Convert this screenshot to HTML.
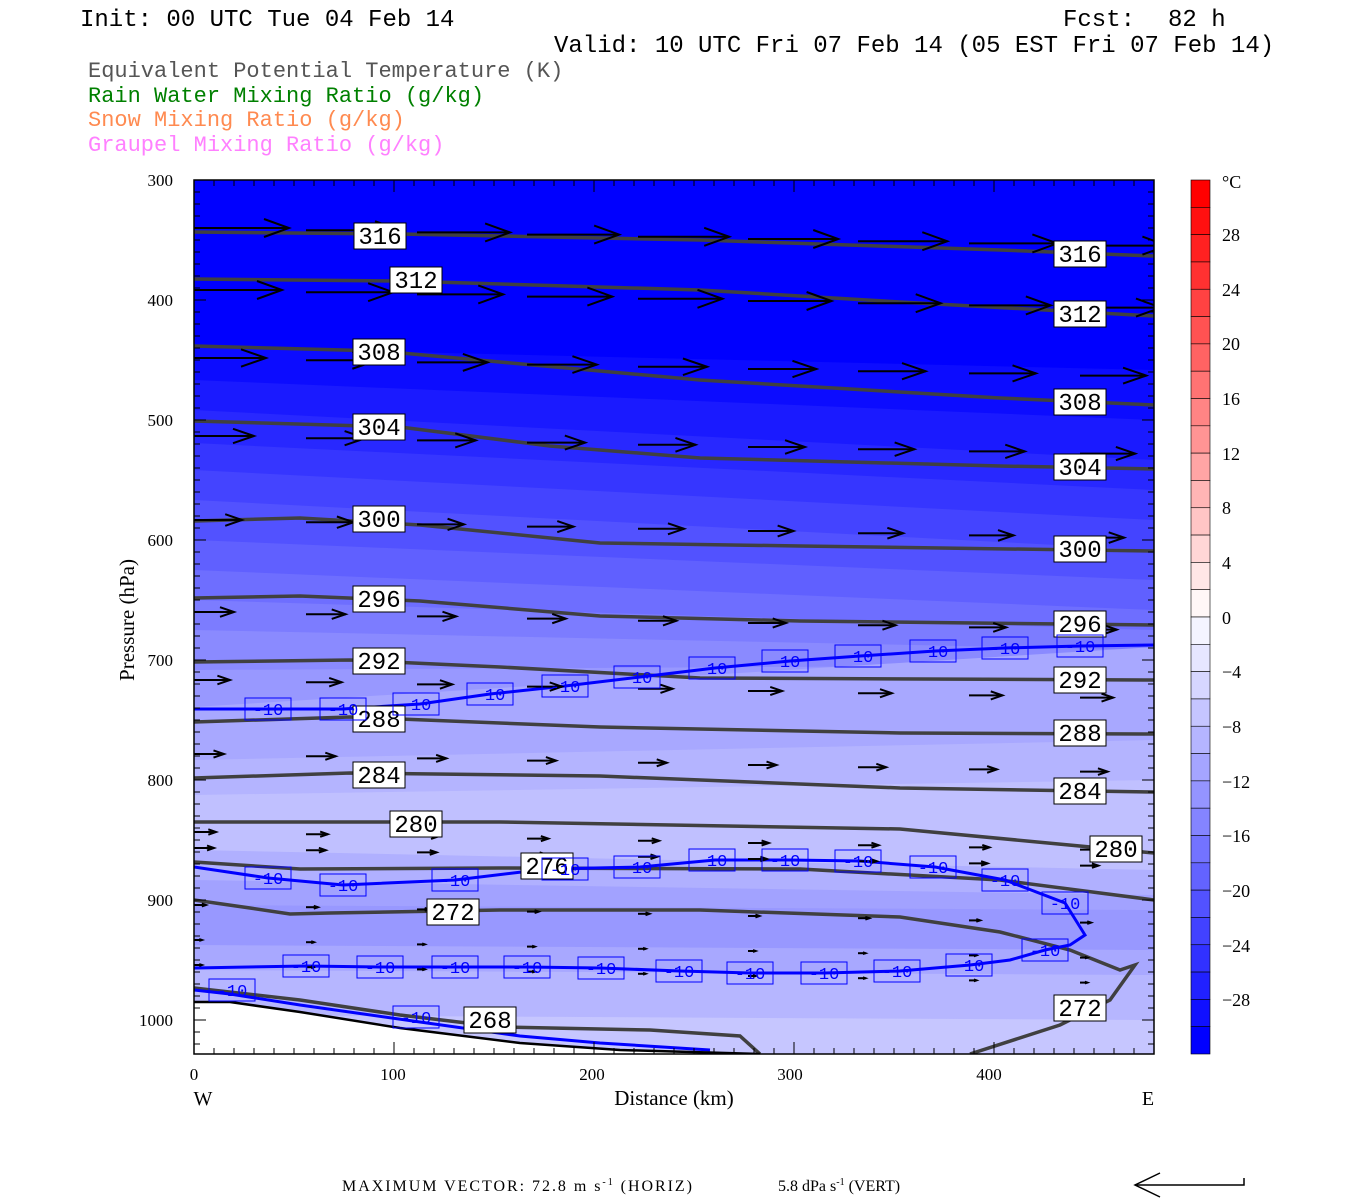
<!DOCTYPE html>
<html><head><meta charset="utf-8">
<style>
html,body{margin:0;padding:0;background:#fff;}
svg{display:block;}
text{font-family:"Liberation Mono",monospace;}
.s{font-family:"Liberation Serif",serif;}
</style></head>
<body>
<svg id="c" width="1350" height="1200" xmlns="http://www.w3.org/2000/svg">
<rect width="1350" height="1200" fill="#fff"/>
<text x="80" y="26" font-size="24" fill="#000">Init: 00 UTC Tue 04 Feb 14</text>
<text x="1063" y="26" font-size="24" fill="#000">Fcst:</text>
<text x="1168" y="26" font-size="24" fill="#000">82 h</text>
<text x="554" y="52" font-size="24" fill="#000">Valid: 10 UTC Fri 07 Feb 14 (05 EST Fri 07 Feb 14)</text>
<text x="88" y="77" font-size="22" fill="#555">Equivalent Potential Temperature (K)</text>
<text x="88" y="102" font-size="22" fill="#008000">Rain Water Mixing Ratio (g/kg)</text>
<text x="88" y="126" font-size="22" fill="#ff8a50">Snow Mixing Ratio (g/kg)</text>
<text x="88" y="151" font-size="22" fill="#ff80ff">Graupel Mixing Ratio (g/kg)</text>

<defs><clipPath id="pc"><rect x="194" y="180" width="960" height="874"/></clipPath></defs>
<g id="fill" clip-path="url(#pc)">
<rect x="194" y="180" width="960" height="874" fill="#0000ff"/>
</g>
<g id="lines" clip-path="url(#pc)" fill="none">
<g stroke="#404040" stroke-width="3.5">
<polyline points="194,232 400,234 700,240 1000,250 1154,256"/>
<polyline points="194,279 400,281 700,290 900,302 1154,316"/>
<polyline points="194,346 380,351 500,362 700,380 1000,398 1154,405"/>
<polyline points="194,421 400,427 550,446 700,458 1000,466 1154,469"/>
<polyline points="194,521 300,518 420,525 600,543 800,546 1154,551"/>
<polyline points="194,598 300,596 420,601 600,616 800,621 1154,625"/>
<polyline points="194,662 350,660 500,667 700,678 1154,680"/>
<polyline points="194,722 350,717 600,727 900,733 1154,734"/>
<polyline points="194,778 350,773 600,776 900,788 1154,792"/>
<polyline points="194,822 500,822 900,829 1154,853"/>
<polyline points="194,862 300,869 500,868 800,869 1000,880 1154,900"/>
<polyline points="194,900 250,908 290,914 330,913 500,910 700,910 900,917 1000,932 1070,950 1120,970 1135,965 1110,1000 1060,1025 970,1054"/>
<polyline points="194,988 300,1000 400,1015 500,1027 650,1030 740,1036 760,1054"/>
</g>
<g stroke="#0000ff" stroke-width="3">
<polyline points="194,709 268,709 343,709 420,704 490,694 565,686 640,677 715,668 790,661 860,656 935,651 1005,648 1080,646 1154,645"/>
<polyline points="194,867 268,878 343,885 455,880 547,869 640,867 715,860 790,860 860,861 935,867 1005,880 1065,903 1085,935 1070,945 1045,950 1010,960 970,965 900,971 825,973 750,973 680,971 600,968 527,967 455,967 380,967 306,966 194,968"/>
<polyline points="194,990 230,994 300,1005 420,1022 520,1036 600,1043 710,1050"/>
</g>
<polyline points="194,1002 230,1002 300,1012 400,1028 520,1043 620,1050 760,1054" stroke="#000" stroke-width="2.5"/>
</g>
<g id="arrows" clip-path="url(#pc)" stroke="#000" stroke-width="2" fill="none"></g>
<rect x="194" y="180" width="960" height="874" fill="none" stroke="#000" stroke-width="1.5"/>
<g id="ticks" stroke="#000" stroke-width="1"></g>

<g font-size="24" fill="#000" text-anchor="middle" id="tl"></g>
<g id="bl" font-size="17" fill="#0000ff" text-anchor="middle"></g>

<g font-size="17" fill="#000" class="s">
<text x="173" y="186" text-anchor="end" class="s">300</text>
<text x="173" y="306" text-anchor="end" class="s">400</text>
<text x="173" y="426" text-anchor="end" class="s">500</text>
<text x="173" y="546" text-anchor="end" class="s">600</text>
<text x="173" y="666" text-anchor="end" class="s">700</text>
<text x="173" y="786" text-anchor="end" class="s">800</text>
<text x="173" y="906" text-anchor="end" class="s">900</text>
<text x="173" y="1026" text-anchor="end" class="s">1000</text>
<text x="194" y="1080" text-anchor="middle" class="s">0</text>
<text x="393" y="1080" text-anchor="middle" class="s">100</text>
<text x="592" y="1080" text-anchor="middle" class="s">200</text>
<text x="790" y="1080" text-anchor="middle" class="s">300</text>
<text x="989" y="1080" text-anchor="middle" class="s">400</text>
</g>
<text x="203" y="1105" font-size="20" text-anchor="middle" class="s">W</text>
<text x="1148" y="1105" font-size="20" text-anchor="middle" class="s">E</text>
<text x="674" y="1105" font-size="21" text-anchor="middle" class="s">Distance (km)</text>
<text transform="translate(134,620) rotate(-90)" font-size="21" text-anchor="middle" class="s">Pressure (hPa)</text>
<text x="342" y="1191" font-size="16" class="s" textLength="350">MAXIMUM VECTOR:  72.8 m s<tspan dy="-6" font-size="10">-1</tspan><tspan dy="6"> (HORIZ)</tspan></text>
<text x="778" y="1191" font-size="16" class="s">5.8 dPa s<tspan dy="-6" font-size="10">-1</tspan><tspan dy="6"> (VERT)</tspan></text>
<g stroke="#000" stroke-width="1.5" fill="none"><polyline points="1244,1178 1244,1185 1135,1185"/><polyline points="1160,1173 1135,1185 1160,1197"/></g>

<g id="cb"></g>
<g font-size="18" fill="#000" class="s">
<text x="1222" y="188" class="s">°C</text>
<text x="1222" y="241" class="s">28</text>
<text x="1222" y="296" class="s">24</text>
<text x="1222" y="350" class="s">20</text>
<text x="1222" y="405" class="s">16</text>
<text x="1222" y="460" class="s">12</text>
<text x="1222" y="514" class="s">8</text>
<text x="1222" y="569" class="s">4</text>
<text x="1222" y="624" class="s">0</text>
<text x="1222" y="678" class="s">−4</text>
<text x="1222" y="733" class="s">−8</text>
<text x="1222" y="788" class="s">−12</text>
<text x="1222" y="842" class="s">−16</text>
<text x="1222" y="897" class="s">−20</text>
<text x="1222" y="952" class="s">−24</text>
<text x="1222" y="1006" class="s">−28</text>
</g>
</svg>
<script>
var NS="http://www.w3.org/2000/svg";
function el(p,t,a){var e=document.createElementNS(NS,t);for(var k in a)e.setAttribute(k,a[k]);p.appendChild(e);return e;}
var F=document.getElementById('fill');
var bands=[[347,370,'#0c0cff'],[380,420,'#1a1aff'],[410,460,'#2828ff'],[443,490,'#3636ff'],[470,520,'#4444ff'],[500,550,'#5252ff'],[540,580,'#6060ff'],[570,610,'#6e6eff'],[600,630,'#7c7cff'],[630,650,'#8a8aff'],[670,665,'#9898ff'],[707,647,'#a8a8ff'],[760,740,'#b4b4ff'],[795,780,'#c0c0ff'],[850,870,'#b0b0ff'],[880,895,'#a2a2ff'],[905,910,'#9898ff'],[945,950,'#a8a8ff'],[970,975,'#b6b6ff'],[1015,1020,'#c6c6ff']];
bands.forEach(function(b){el(F,'polygon',{points:'194,'+b[0]+' 1154,'+b[1]+' 1154,1054 194,1054',fill:b[2]});});
el(F,'polygon',{points:'194,1002 230,1002 300,1012 400,1028 520,1043 620,1050 760,1054 194,1054',fill:'#fff'});
var A=document.getElementById('arrows');
var rows=[[228,95],[290,88],[358,72],[436,60],[520,48],[612,40],[680,36],[754,30],[832,22],[848,20],[905,12],[940,8],[965,8]];
var cols=[194,306,417,527,638,748,858,969,1080];
rows.forEach(function(r,ri){cols.forEach(function(x,ci){
 var y=r[0]+ci*2.2;var L=r[1]*(1-ci*0.01);
 var ex=x+L;el(A,'line',{x1:x,y1:y,x2:ex,y2:y});
 var h=Math.min(25,L*0.35),w=Math.min(9,L*0.12);
 el(A,'polyline',{points:(ex-h)+','+(y-w)+' '+ex+','+y+' '+(ex-h)+','+(y+w)});
});});
var T=document.getElementById('ticks');
for(var p=300;p<=1029;p+=10){var y=180+(p-300)*1.2;var l=(p%100==0)?12:6;el(T,'line',{x1:194,y1:y,x2:194+l,y2:y});el(T,'line',{x1:1154,y1:y,x2:1154-l,y2:y});}
for(var d=0;d<=480;d+=10){var x=194+d*2;var l=(d%100==0)?12:6;el(T,'line',{x1:x,y1:1054,x2:x,y2:1054-l});el(T,'line',{x1:x,y1:180,x2:x,y2:180+l});}
var TL=document.getElementById('tl');
[[380,236,316],[1080,254,316],[416,280,312],[1080,314,312],[379,352,308],[1080,402,308],[379,427,304],[1080,467,304],[379,519,300],[1080,549,300],[379,599,296],[1080,624,296],[379,661,292],[1080,680,292],[379,719,288],[1080,733,288],[379,775,284],[1080,791,284],[416,824,280],[1116,849,280],[547,866,276],[453,912,272],[1080,1008,272],[490,1020,268]].forEach(function(a){
 el(TL,'rect',{x:a[0]-26,y:a[1]-13,width:52,height:26,fill:'#fff',stroke:'#000','stroke-width':1});
 var t=el(TL,'text',{x:a[0],y:a[1]+8});t.textContent=a[2];});
var BL=document.getElementById('bl');
[[268,709],[343,709],[416,704],[490,694],[565,686],[637,677],[712,668],[785,661],[858,656],[933,651],[1005,648],[1080,646],[268,878],[343,885],[455,880],[565,869],[637,867],[712,860],[785,860],[858,861],[933,867],[1005,880],[1065,903],[1045,950],[969,965],[897,971],[824,973],[750,973],[679,971],[601,968],[527,967],[455,967],[380,967],[306,966],[232,990],[416,1017]].forEach(function(a){
 el(BL,'rect',{x:a[0]-23,y:a[1]-11,width:46,height:22,fill:'none',stroke:'#0000ff','stroke-width':1});
 var t=el(BL,'text',{x:a[0],y:a[1]+6});t.textContent='-10';});
var CB=document.getElementById('cb');var h=874/32;
for(var i=0;i<32;i++){var c;
 if(i<16){var f=Math.round(255*i/15.5);c='rgb(255,'+f+','+f+')';}
 else{var f=Math.round(255*(31-i)/15.5);f=Math.min(f,244);c='rgb('+f+','+f+',255)';}
 el(CB,'rect',{x:1191,y:180+i*h,width:19,height:h,fill:c,stroke:'#000','stroke-width':0.6});}
</script>
</body></html>
